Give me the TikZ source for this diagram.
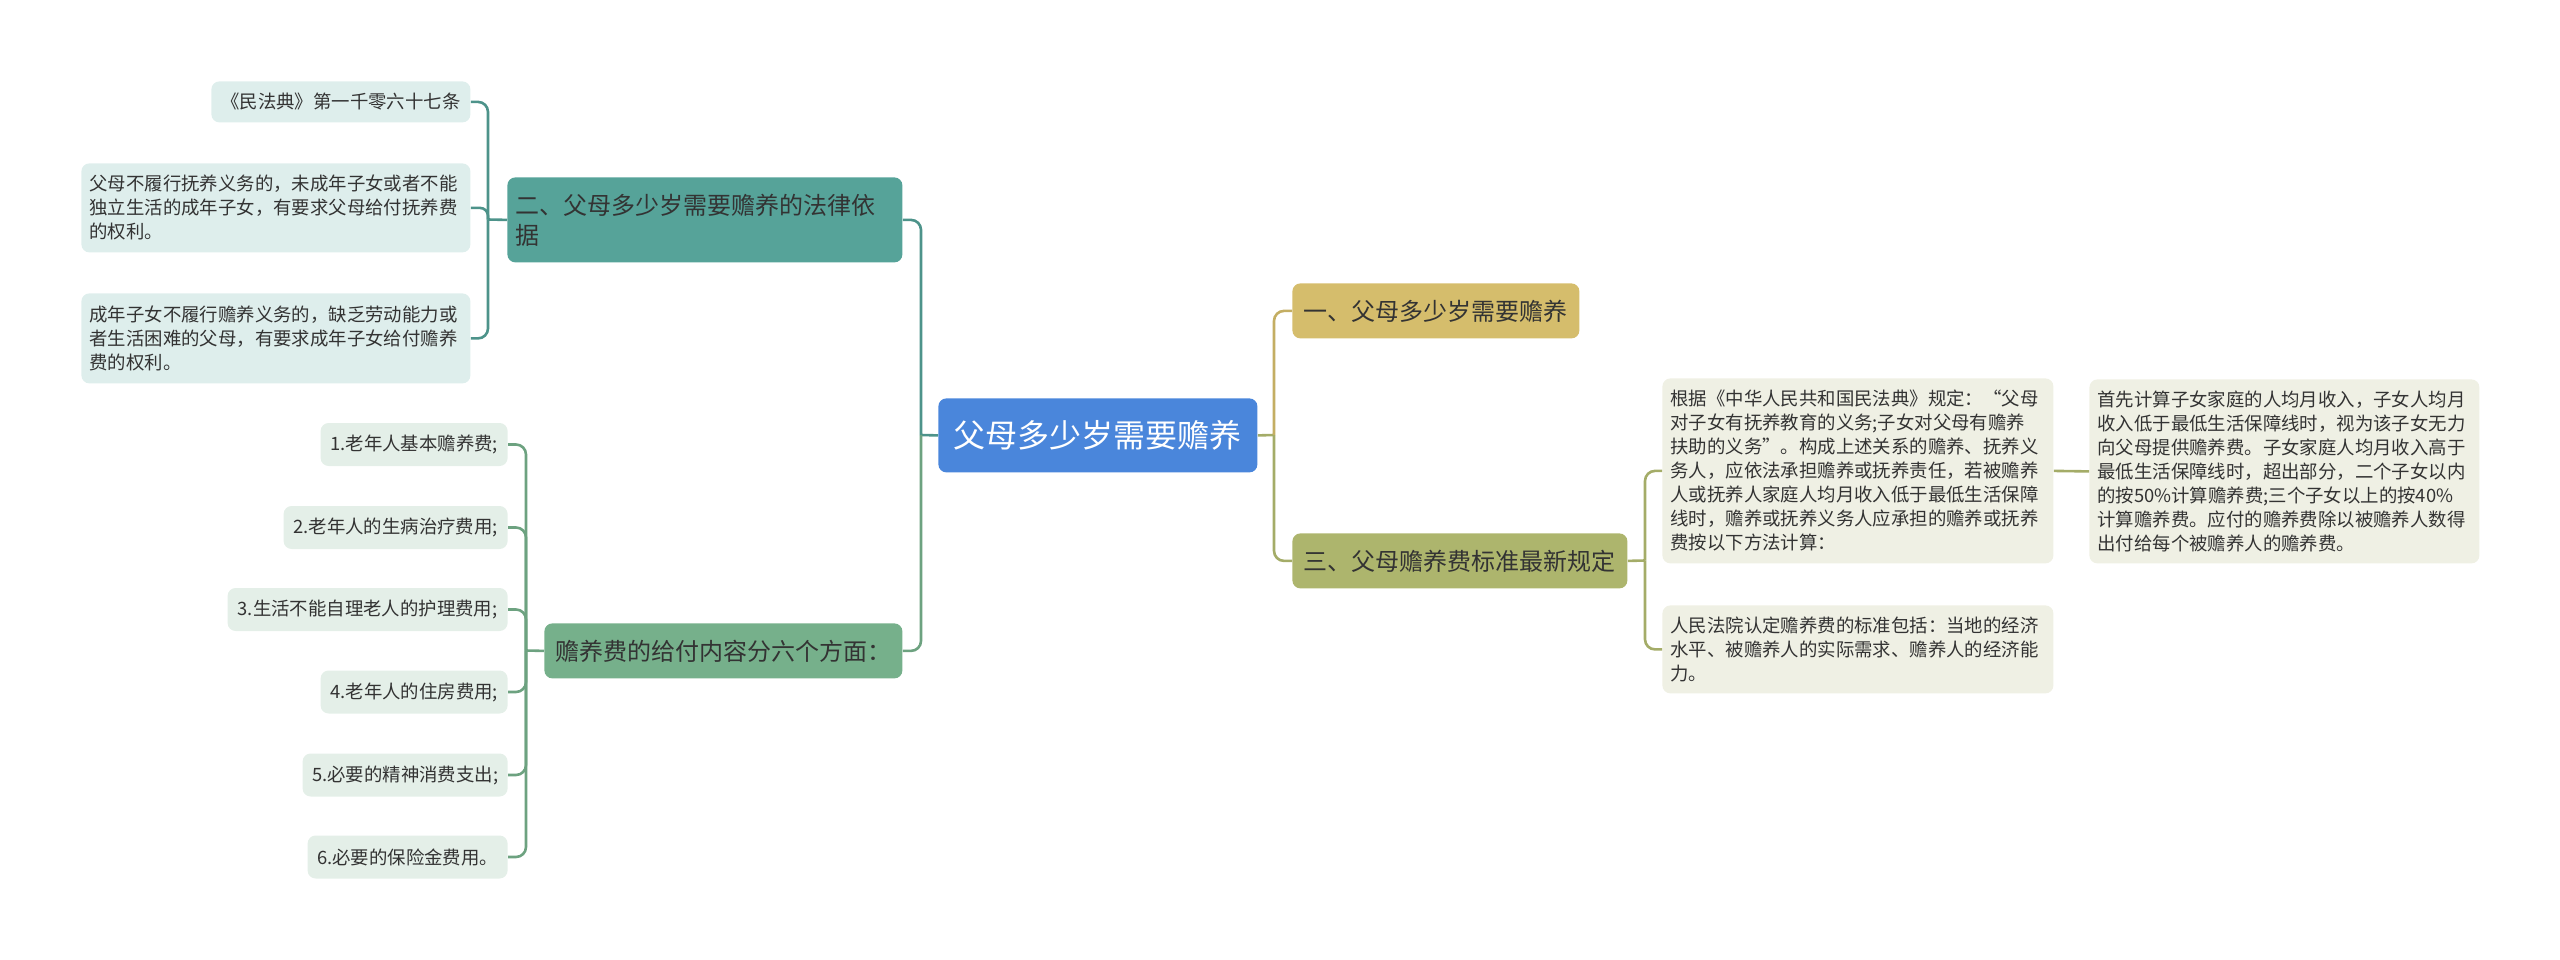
\documentclass[tikz,border=0pt]{standalone}
\usepackage{fontspec}
\setmainfont{Noto Sans CJK SC}
\definecolor{rootblue}{HTML}{4A86DB}
\definecolor{goldfill}{HTML}{D5BD6C}
\definecolor{olivefill}{HTML}{ADB56D}
\definecolor{olivepale}{HTML}{EFF0E4}
\definecolor{tealfill}{HTML}{56A399}
\definecolor{tealpale}{HTML}{DEEEEC}
\definecolor{greenfill}{HTML}{76B08B}
\definecolor{greenpale}{HTML}{E4EFE8}
\definecolor{textgray}{HTML}{333333}

\begin{document}
\begin{tikzpicture}[x=0.5pt, y=-0.5pt,
	box/.style={rectangle, rounded corners=4pt, anchor=north west, inner xsep=4pt, inner ysep=0pt, text=textgray},
	branch/.style={box, font=\fontsize{12pt}{15pt}\selectfont, align=left},
	leaf/.style={box, font=\fontsize{9.2pt}{12pt}\selectfont, align=left},
	item/.style={leaf, anchor=east, fill=greenpale, minimum height=21.5pt},
	link/.style={line width=1.3pt},
	tealline/.style={link, draw=tealfill!90!black},
	greenline/.style={link, draw=greenfill!92!black},
	goldline/.style={link, draw=goldfill!92!black},
	oliveline/.style={link, draw=olivefill!95!black}]
	\useasboundingbox (0, 0) rectangle (2560, 959);
	\node[box, fill=rootblue, text=white, font=\fontsize{16pt}{20pt}\selectfont, minimum width=159.5pt, minimum height=37pt] (root) at (938, 398) {父母多少岁需要赡养};
	\node[branch, fill=goldfill, minimum width=143.5pt, minimum height=27.5pt] (root_b1) at (1292, 283) {一、父母多少岁需要赡养};
	\node[branch, fill=olivefill, minimum width=167.5pt, minimum height=27.5pt] (root_b3) at (1292, 533) {三、父母赡养费标准最新规定};
	\node[leaf, fill=olivepale, text width=187.5pt, minimum height=92.5pt] (root_b3_r1) at (1662, 378) {根据《中华人民共和国民法典》规定：“父母\\对子女有抚养教育的义务;子女对父母有赡养\\扶助的义务”。构成上述关系的赡养、抚养义\\务人，应依法承担赡养或抚养责任，若被赡养\\人或抚养人家庭人均月收入低于最低生活保障\\线时，赡养或抚养义务人应承担的赡养或抚养\\费按以下方法计算：};
	\node[leaf, fill=olivepale, text width=187pt, minimum height=92pt] (root_b3_r1_a) at (2089, 379) {首先计算子女家庭的人均月收入，子女人均月\\收入低于最低生活保障线时，视为该子女无力\\向父母提供赡养费。子女家庭人均月收入高于\\最低生活保障线时，超出部分，二个子女以内\\的按50\%计算赡养费;三个子女以上的按40\%\\计算赡养费。应付的赡养费除以被赡养人数得\\出付给每个被赡养人的赡养费。};
	\node[leaf, fill=olivepale, text width=187.5pt, minimum height=44pt] (root_b3_r2) at (1662, 605) {人民法院认定赡养费的标准包括：当地的经济\\水平、被赡养人的实际需求、赡养人的经济能\\力。};
	\node[branch, fill=tealfill, text width=189.5pt, minimum height=42.5pt] (root_b2) at (507, 177) {二、父母多少岁需要赡养的法律依\\据};
	\node[leaf, fill=tealpale, minimum width=129.5pt, minimum height=20.5pt] (root_b2_l1) at (211, 81) {《民法典》第一千零六十七条};
	\node[leaf, fill=tealpale, text width=186.5pt, minimum height=44.5pt] (root_b2_l2) at (81, 163) {父母不履行抚养义务的，未成年子女或者不能\\独立生活的成年子女，有要求父母给付抚养费\\的权利。};
	\node[leaf, fill=tealpale, text width=186.5pt, minimum height=45pt] (root_b2_l3) at (81, 293) {成年子女不履行赡养义务的，缺乏劳动能力或\\者生活困难的父母，有要求成年子女给付赡养\\费的权利。};
	\node[branch, fill=greenfill, minimum width=179pt, minimum height=27.5pt] (root_b4) at (544, 623) {赡养费的给付内容分六个方面：};
	\node[item, minimum width=93.5pt] (root_b4_i1) at (508, 444.5) {1.老年人基本赡养费;};
	\node[item, minimum width=112pt] (root_b4_i2) at (508, 527.5) {2.老年人的生病治疗费用;};
	\node[item, minimum width=140pt] (root_b4_i3) at (508, 609.5) {3.生活不能自理老人的护理费用;};
	\node[item, minimum width=93.5pt] (root_b4_i4) at (508, 692) {4.老年人的住房费用;};
	\node[item, minimum width=102.5pt] (root_b4_i5) at (508, 775) {5.必要的精神消费支出;};
	\node[item, minimum width=100pt] (root_b4_i6) at (508, 857) {6.必要的保险金费用。};
	\coordinate (root_w) at (921, 435);
	\coordinate (root_e) at (1274, 435);
	\coordinate (root_b2_w) at (488, 219.5);
	\coordinate (root_b4_w) at (526, 650.5);
	\coordinate (root_b3_e) at (1645, 560.5);
	\draw[tealline] (root.west) -- (root_w);
	\draw[tealline, rounded corners=5pt] (root_w) |- (root_b2.east);
	\draw[greenline, rounded corners=5pt] (root_w) |- (root_b4.east);
	\draw[oliveline] (root.east) -- (root_e);
	\draw[goldline, rounded corners=5pt] (root_e) |- (root_b1.west);
	\draw[oliveline, rounded corners=5pt] (root_e) |- (root_b3.west);
	\draw[tealline] (root_b2.west) -- (root_b2_w);
	\draw[tealline, rounded corners=5pt] (root_b2_w) |- (root_b2_l1.east);
	\draw[tealline, rounded corners=4pt] (root_b2_w) |- (root_b2_l2.east);
	\draw[tealline, rounded corners=5pt] (root_b2_w) |- (root_b2_l3.east);
	\draw[greenline] (root_b4.west) -- (root_b4_w);
	\draw[greenline, rounded corners=5pt] (root_b4_w) |- (root_b4_i1.east);
	\draw[greenline, rounded corners=5pt] (root_b4_w) |- (root_b4_i2.east);
	\draw[greenline, rounded corners=5pt] (root_b4_w) |- (root_b4_i3.east);
	\draw[greenline, rounded corners=5pt] (root_b4_w) |- (root_b4_i4.east);
	\draw[greenline, rounded corners=5pt] (root_b4_w) |- (root_b4_i5.east);
	\draw[greenline, rounded corners=5pt] (root_b4_w) |- (root_b4_i6.east);
	\draw[oliveline] (root_b3.east) -- (root_b3_e);
	\draw[oliveline, rounded corners=5pt] (root_b3_e) |- (root_b3_r1.west);
	\draw[oliveline, rounded corners=5pt] (root_b3_e) |- (root_b3_r2.west);
	\draw[oliveline] (root_b3_r1.east) -- (root_b3_r1_a.west);
\end{tikzpicture}
\end{document}
